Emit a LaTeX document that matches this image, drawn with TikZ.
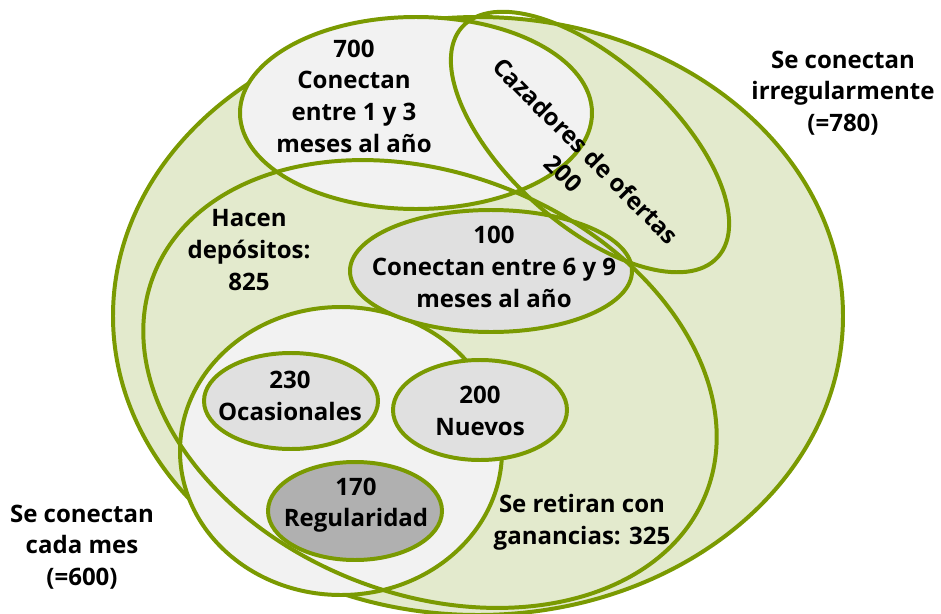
\documentclass[tikz,border=0pt]{standalone}
\usepackage{fontspec}
\setmainfont{Open Sans}
\definecolor{vgreen}{RGB}{122,154,1}
\definecolor{vfill}{RGB}{227,234,205}
\definecolor{lgray}{RGB}{242,242,242}
\definecolor{mgray}{RGB}{224,224,224}
\definecolor{dgray}{RGB}{176,176,176}
\tikzset{
  venn/.style={draw=vgreen, line width=3.4pt},
  lbl/.style={font=\fontsize{20.5}{27}\selectfont\bfseries, align=center, inner sep=0pt}
}

\begin{document}
\begin{tikzpicture}[x=0.03cm, y=-0.03cm]
			\useasboundingbox (0,0) rectangle (941,614);
			%%%%% START %%%%%
			\draw[venn, fill=vfill] (478,316) ellipse (365 and 299);
			\draw[venn, fill=lgray] (416,113) ellipse (176 and 96);
			
			\draw[venn, fill=lgray] (341,451) ellipse (161 and 144);
			\draw[venn, fill=mgray] (291,401) ellipse (87 and 48);
			\draw[venn, fill=mgray] (480,410) ellipse (87 and 50);
			\draw[venn, fill=dgray] (355,511) ellipse (87 and 49);
			
			\draw[venn, fill=mgray] (491,271) ellipse (141 and 61);
			
			\draw[venn, rotate around={-21.7:(430,384)}] (430,384) ellipse (297 and 210);
			\draw[venn, rotate around={-42:(590,142)}] (590,142) ellipse (172 and 82);
			
			\node[lbl] (unotres) at (354,96) {700\\Conectan\\entre 1 y 3\\meses al año};
			\node[lbl, rotate=-45] (cazadores) at (575,162) {Cazadores de ofertas\\200};
			\node[lbl] (seisnueve) at (494,267) {100\\Conectan entre 6 y 9\\meses al año};
			\node[lbl] (depositos) at (249,250) {Hacen\\depósitos:\\825};
			\node[lbl] (ocasionales) at (290,396) {230\\Ocasionales};
			\node[lbl] (nuevos) at (480,411) {200\\Nuevos};
			\node[lbl] (regularidad) at (356,505) {170\\Regularidad};
			\node[lbl] (retiran) at (582,522) {Se retiran con\\ganancias: 325};
			\node[lbl] (cadames) at (82,547) {Se conectan\\cada mes\\(=600)};
			\node[lbl] (irregular) at (843,93) {Se conectan\\irregularmente\\(=780)};
			%%%%% END %%%%%
\end{tikzpicture}
\end{document}
